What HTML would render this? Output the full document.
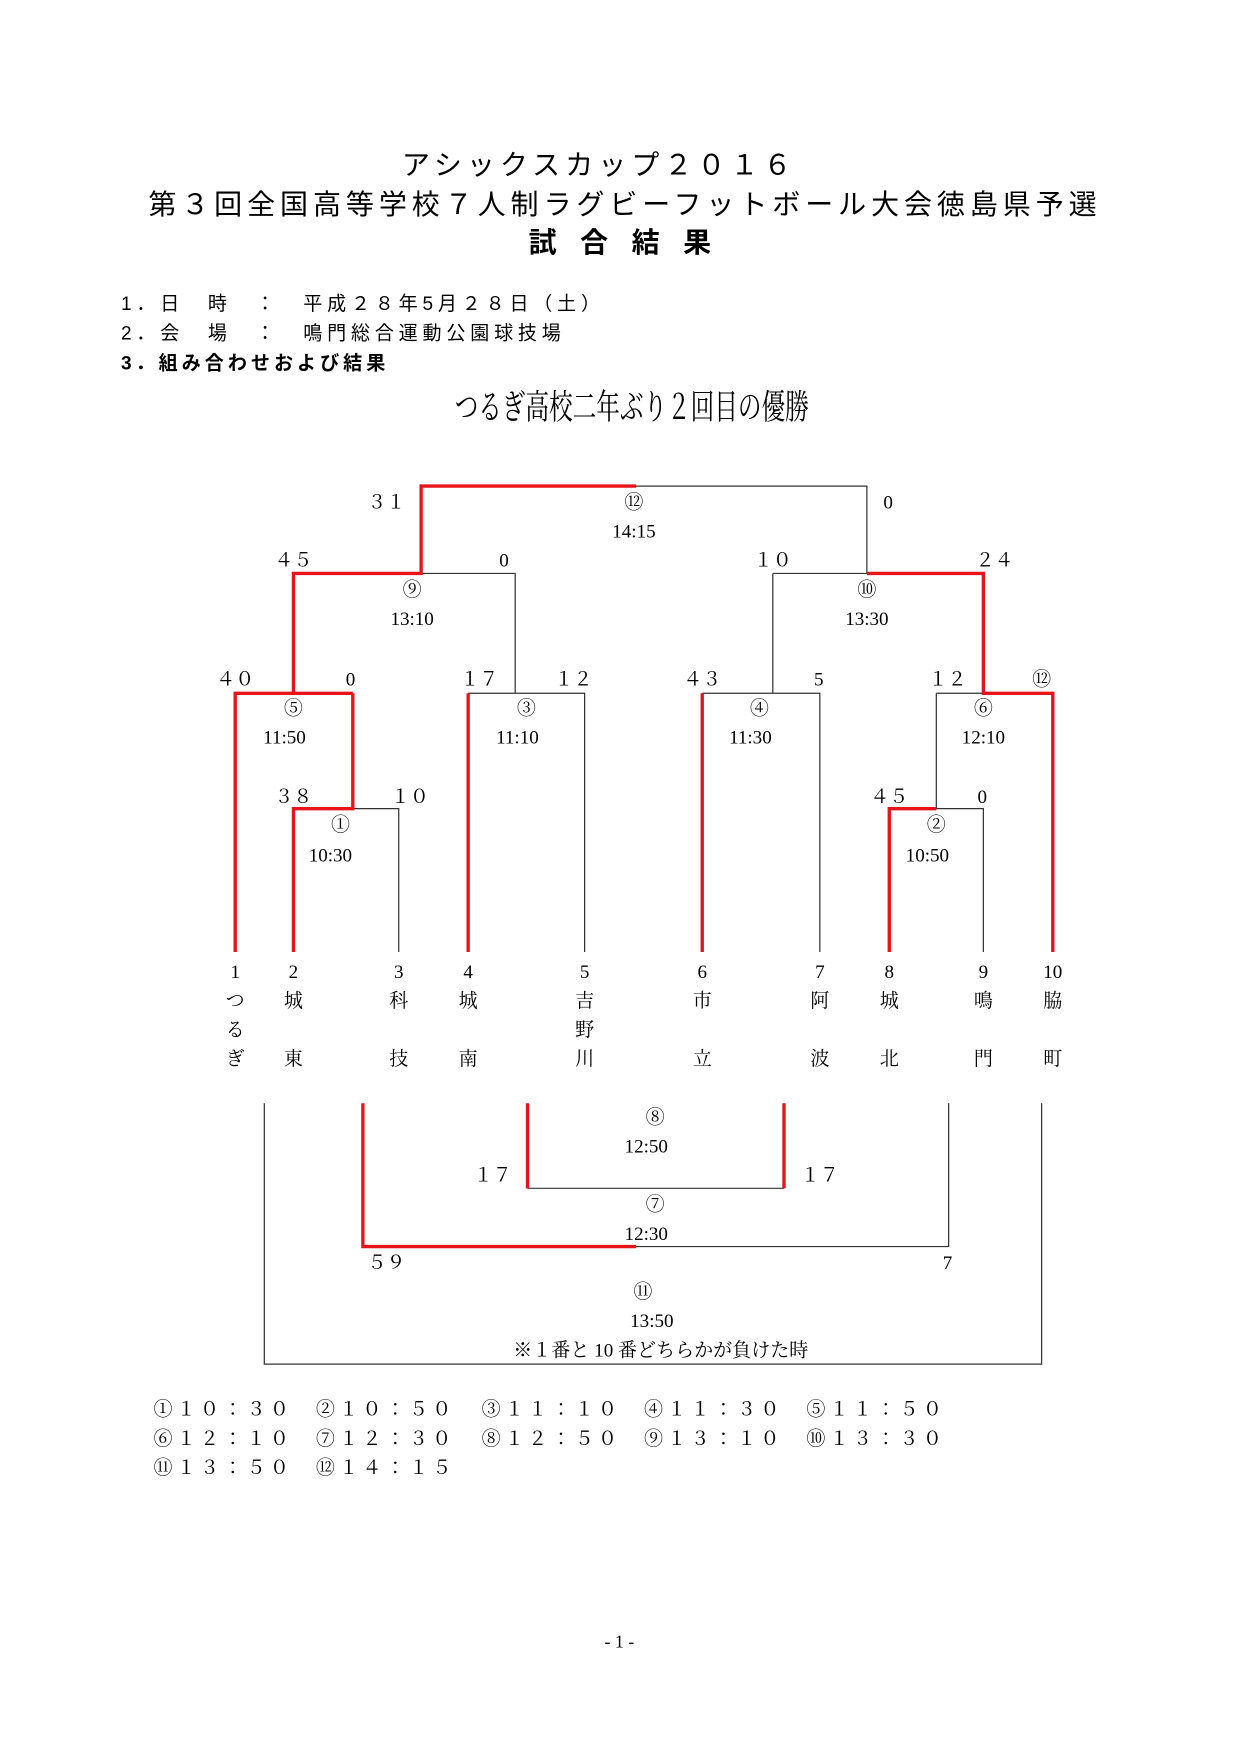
<!DOCTYPE html>
<html><head><meta charset="utf-8"><style>
html,body{margin:0;padding:0;background:#fff;}
svg{display:block;}
.s{font-family:"Liberation Sans","Noto Sans CJK JP",sans-serif;fill:#000;}
.r{font-family:"Liberation Serif","Noto Serif CJK JP",serif;fill:#000;font-size:17px;text-anchor:middle;}
.g{stroke:#333;stroke-width:1.1;fill:none;}
.d{stroke:#e8141b;stroke-width:3;fill:none;}
</style></head><body>
<svg width="1240" height="1754" viewBox="0 0 1240 1754" xmlns="http://www.w3.org/2000/svg">
<g transform="scale(1.12)">
<text class="s" x="535" y="156" font-size="25" letter-spacing="4.5" text-anchor="middle">アシックスカップ２０１６</text>
<text class="s" x="558" y="191" font-size="25" letter-spacing="4.4" text-anchor="middle">第３回全国高等学校７人制ラグビーフットボール大会徳島県予選</text>
<text class="s" x="564" y="225" font-size="25" font-weight="bold" letter-spacing="21" text-anchor="middle">試合結果</text>
<text class="s" x="108" y="277" font-size="17" letter-spacing="4.3">1．日　時　：　平成２８年5月２８日（土）</text>
<text class="s" x="108" y="303" font-size="17" letter-spacing="4.3">2．会　場　：　鳴門総合運動公園球技場</text>
<text class="s" x="108" y="330" font-size="17" letter-spacing="3.6" font-weight="bold">3．組み合わせおよび結果</text>
<text x="564" y="374" font-family="Liberation Serif,'Noto Serif CJK JP',serif" font-size="31" text-anchor="middle" transform="translate(564 0) scale(0.68 1) translate(-564 0)">つるぎ高校二年ぶり２回目の優勝</text>

<path class="g" d="M262 722H356V850 M315 619H210 M262 512H460V619 M376 434H774V512 M418 619H522V850 M690 512H878 M690 512V619 M627 619H732V850 M836 619H940 M836 619V722 M794 722H878V850"/>
<path class="d" d="M262 850V722H315V619 M210 850V619H262V512H376V434H568 M418 850V619 M774 512H878V619H940V850 M627 850V619 M794 850V722H836"/>
<path class="d" d="M315 619H262"/>

<g class="r">
<text x="345" y="454">３１</text><text x="566" y="454">⑫</text><text x="566" y="480">14:15</text><text x="793" y="454">0</text>
<text x="262" y="506">４５</text><text x="450" y="506">0</text><text x="368" y="532">⑨</text><text x="368" y="558">13:10</text>
<text x="690" y="506">１０</text><text x="888" y="506">２４</text><text x="774" y="532">⑩</text><text x="774" y="558">13:30</text>
<text x="210" y="612">４０</text><text x="313" y="612">0</text><text x="262" y="638">⑤</text><text x="254" y="664">11:50</text>
<text x="428" y="612">１７</text><text x="512" y="612">１２</text><text x="470" y="638">③</text><text x="462" y="664">11:10</text>
<text x="627" y="612">４３</text><text x="731" y="612">5</text><text x="678" y="638">④</text><text x="670" y="664">11:30</text>
<text x="846" y="612">１２</text><text x="930" y="612">⑫</text><text x="878" y="638">⑥</text><text x="878" y="664">12:10</text>
<text x="262" y="717">３８</text><text x="366" y="717">１０</text><text x="304" y="742">①</text><text x="295" y="769">10:30</text>
<text x="794" y="717">４５</text><text x="877" y="717">0</text><text x="836" y="742">②</text><text x="828" y="769">10:50</text>

<text x="210" y="873">1</text><text x="262" y="873">2</text><text x="356" y="873">3</text><text x="418" y="873">4</text><text x="522" y="873">5</text>
<text x="627" y="873">6</text><text x="732" y="873">7</text><text x="794" y="873">8</text><text x="878" y="873">9</text><text x="940" y="873">10</text>
<text x="210" y="899">つ</text><text x="210" y="925">る</text><text x="210" y="951">ぎ</text>
<text x="262" y="899">城</text><text x="262" y="951">東</text>
<text x="356" y="899">科</text><text x="356" y="951">技</text>
<text x="418" y="899">城</text><text x="418" y="951">南</text>
<text x="522" y="899">吉</text><text x="522" y="925">野</text><text x="522" y="951">川</text>
<text x="627" y="899">市</text><text x="627" y="951">立</text>
<text x="732" y="899">阿</text><text x="732" y="951">波</text>
<text x="794" y="899">城</text><text x="794" y="951">北</text>
<text x="878" y="899">鳴</text><text x="878" y="951">門</text>
<text x="940" y="899">脇</text><text x="940" y="951">町</text>

<text x="585" y="1003">⑧</text><text x="577" y="1029">12:50</text>
<text x="440" y="1055">１７</text><text x="732" y="1055">１７</text>
<text x="585" y="1081">⑦</text><text x="577" y="1107">12:30</text>
<text x="345" y="1133">５９</text><text x="846" y="1133">7</text>
<text x="574" y="1159">⑪</text><text x="582" y="1185">13:50</text>
<text x="590" y="1211">※１番と 10 番どちらかが負けた時</text>
</g>

<path class="g" d="M236 985V1218H930V985 M847 985V1113H568 M471 1061H700"/>
<path class="d" d="M324 985V1113H568 M471 985V1061 M700 985V1061"/>

<g font-family="Liberation Serif,'Noto Serif CJK JP',serif" font-size="17" letter-spacing="3.8">
<text x="137" y="1264">①１０：３０</text><text x="282" y="1264">②１０：５０</text><text x="430" y="1264">③１１：１０</text><text x="575" y="1264">④１１：３０</text><text x="720" y="1264">⑤１１：５０</text>
<text x="137" y="1290">⑥１２：１０</text><text x="282" y="1290">⑦１２：３０</text><text x="430" y="1290">⑧１２：５０</text><text x="575" y="1290">⑨１３：１０</text><text x="720" y="1290">⑩１３：３０</text>
<text x="137" y="1316">⑪１３：５０</text><text x="282" y="1316">⑫１４：１５</text>
</g>
<text x="553" y="1471" font-family="Liberation Serif,serif" font-size="16" text-anchor="middle">- 1 -</text>
</g>
</svg>
</body></html>
